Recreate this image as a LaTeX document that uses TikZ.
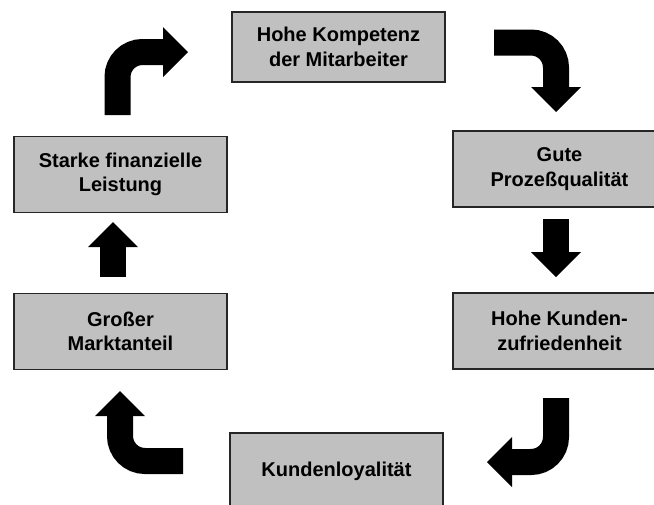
\documentclass[tikz,border=0pt]{standalone}
\usepackage{fontspec}
\setmainfont{Liberation Sans}
\usetikzlibrary{arrows.meta}
\definecolor{boxgray}{RGB}{192,192,192}
\tikzset{
  kreislauf/.style={
	x=0.75pt, y=-0.75pt, % one unit is one pixel, y runs downwards
	font=\bfseries\fontsize{15}{18.5}\selectfont, % bold sans text in all boxes
  },
  box/.style={
	rectangle, draw=black!85, line width=0.9pt, fill=boxgray, % grey box with dark frame
	align=center, inner sep=0pt,
	minimum width=159.75pt, minimum height=57pt, % same size for every box
  },
  blockarrow/.style={
	draw=black, line width=19.5pt, % the shaft of the fat arrows
	rounded corners=18.75pt, % bend of the curved arrows
	-{Triangle[length=18.75pt, width=37.5pt, line width=0pt]}, % big filled head
  }
}
\begin{document}
\begin{tikzpicture}[kreislauf]
	  \clip (0,0) rectangle (654,504);
	  \node[box, minimum height=52.5pt] (komp) at (338.5,47) {Hohe Kompetenz\\der Mitarbeiter};
	  \node[box] (gute) at (559.5,169) {Gute\\Prozeßqualität};
	  \node[box] (zufr) at (559.5,331) {Hohe Kunden-\\zufriedenheit};
	  \node[box] (loyal) at (336.5,471) {Kundenloyalität};
	  \node[box] (markt) at (120.5,331.5) {Großer\\Marktanteil};
	  \node[box] (stark) at (120.5,174.5) {Starke finanzielle\\Leistung};

	  \coordinate (a1) at (117.5,115); \coordinate (b1) at (188,52);
	  \coordinate (a2) at (494,42.5);  \coordinate (b2) at (556,112);
	  \coordinate (a3) at (556,219);   \coordinate (b3) at (556,277);
	  \coordinate (a4) at (556,398);   \coordinate (b4) at (487,462);
	  \coordinate (a5) at (183,461);   \coordinate (b5) at (120,391);
	  \coordinate (a6) at (113,277);   \coordinate (b6) at (113,222);

	  \draw[blockarrow] (a1) |- (b1);
	  \draw[blockarrow] (a2) -| (b2);
	  \draw[blockarrow] (a3) -- (b3);
	  \draw[blockarrow] (a4) |- (b4);
	  \draw[blockarrow] (a5) -| (b5);
	  \draw[blockarrow] (a6) -- (b6);
\end{tikzpicture}
\end{document}
